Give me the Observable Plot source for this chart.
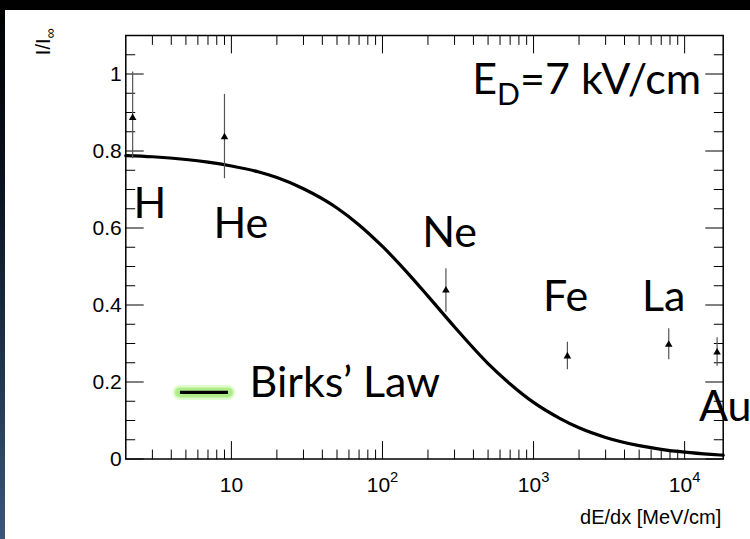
<!DOCTYPE html>
<html>
<head>
<meta charset="utf-8">
<script src="https://cdn.jsdelivr.net/npm/d3@7"></script>
<script src="https://cdn.jsdelivr.net/npm/@observablehq/plot@0.6"></script>
<style>
  html, body { margin: 0; padding: 0; background: #000; }
  #wrap { position: relative; width: 750px; height: 539px; overflow: hidden;
          background: linear-gradient(to bottom, #000 0%, #0a1320 35%, #22374f 70%, #3b5678 100%); }
  #chart { position: absolute; left: 5px; top: 10px; width: 745px; height: 529px; background: #fff; }
</style>
</head>
<body>
<div id="wrap"><div id="chart"></div></div>
<script>
// ---- data ----
const elements = ["H", "He", "Ne", "Fe", "La", "Au"];
const dEdx     = [2.22, 9.0, 263, 1675, 7850, 16400];       // MeV/cm
const ratio    = [0.886, 0.836, 0.438, 0.267, 0.297, 0.277]; // I/I_inf
const errLow   = [0.780, 0.728, 0.381, 0.232, 0.258, 0.241];
const errHigh  = [1.005, 0.947, 0.494, 0.303, 0.338, 0.315];
const labelX   = [2.25, 7.6, 183, 1156, 5225, 12450];
const labelY   = [0.625, 0.575, 0.550, 0.384, 0.384, 0.100];

// Birks' law curve
const birksX = [2, 3, 5, 7, 10, 15, 20, 30, 50, 70, 100, 150, 200, 300, 500, 700,
                1000, 1500, 2000, 3000, 5000, 7000, 10000, 15000, 18000];
const birksY = [0.788, 0.785, 0.778, 0.771, 0.761, 0.746, 0.731, 0.702, 0.652, 0.608,
                0.552, 0.479, 0.423, 0.343, 0.248, 0.195, 0.147, 0.105, 0.081, 0.056,
                0.0346, 0.025, 0.0177, 0.0119, 0.0099];

const xDomain = [2, 18000];
const yDomain = [0, 1.1];
const xMajor = [10, 100, 1000, 10000];
const xTickLabels = ["10", "10^2", "10^3", "10^4"];
const xMinor = [3,4,5,6,7,8,9, 20,30,40,50,60,70,80,90, 200,300,400,500,600,700,800,900,
                2000,3000,4000,5000,6000,7000,8000,9000];
const yMajor = [0, 0.2, 0.4, 0.6, 0.8, 1];
const yTickLabels = ["0", "0.2", "0.4", "0.6", "0.8", "1"];
const yMinor = [0.05,0.1,0.15,0.25,0.3,0.35,0.45,0.5,0.55,0.65,0.7,0.75,0.85,0.9,0.95,1.05];

const fieldLabel = ["E_D=7 kV/cm"];
const fieldPos = {x: 393, y: 0.947};
const legendLabel = ["Birks’ Law"];
const legendLine = {x1: 4.6, x2: 9.56, y: 0.173};
const legendText = {x: 13.2, y: 0.1605};
const xTitle = ["dE/dx [MeV/cm]"];
const yTitle = ["I/I_∞"];

// ---- drawing ----
const tickShape = {draw(context, l) { context.moveTo(0, 0); context.lineTo(0, -l); }};
const MAJ = 17.5, MIN = 9;
const vt = (data, o) => Plot.vector(data, {anchor: "start", shape: tickShape, stroke: "#000", strokeWidth: 1, ...o});
const labelFont = "Lato, 'Open Sans', sans-serif";

const svg = Plot.plot({
  width: 745, height: 529,
  marginLeft: 120.3, marginRight: 27.3, marginTop: 25, marginBottom: 80.5,
  style: {background: "white", fontFamily: "'Liberation Sans', Arial, sans-serif", overflow: "visible"},
  x: {type: "log", domain: xDomain},
  y: {domain: yDomain},
  marks: [
    // ticks inside frame
    vt(xMajor, {x: d => d, y: yDomain[0], length: MAJ, rotate: 0}),
    vt(xMinor, {x: d => d, y: yDomain[0], length: MIN, rotate: 0}),
    vt(xMajor, {x: d => d, y: yDomain[1], length: MAJ, rotate: 180}),
    vt(xMinor, {x: d => d, y: yDomain[1], length: MIN, rotate: 180}),
    vt(yMajor, {y: d => d, x: xDomain[0], length: MAJ, rotate: 90}),
    vt(yMinor, {y: d => d, x: xDomain[0], length: MIN, rotate: 90}),
    vt(yMajor, {y: d => d, x: xDomain[1], length: MAJ, rotate: -90}),
    vt(yMinor, {y: d => d, x: xDomain[1], length: MIN, rotate: -90}),
    Plot.axisX({ticks: xMajor, tickSize: 0, tickPadding: 18, fontSize: 21, label: null,
                tickFormat: d => xTickLabels[xMajor.indexOf(d)]}),
    Plot.axisY({ticks: yMajor, tickSize: 0, tickPadding: 4, fontSize: 21, label: null,
                tickFormat: d => yTickLabels[yMajor.indexOf(d)]}),
    // curve
    Plot.line(birksX.map((x, i) => ({x, y: birksY[i]})), {x: "x", y: "y", stroke: "#000", strokeWidth: 3.2, curve: "monotone-x"}),
    // error bars + markers
    Plot.ruleX(elements.map((e, i) => i), {x: i => dEdx[i], y1: i => errLow[i], y2: i => errHigh[i], stroke: "#555", strokeWidth: 1.2}),
    Plot.dot(elements.map((e, i) => i), {x: i => dEdx[i], y: i => ratio[i], symbol: "triangle", r: 2.8, fill: "#000", stroke: null}),
    // element labels
    Plot.text(elements.map((e, i) => i), {x: i => labelX[i], y: i => labelY[i], text: i => elements[i],
      textAnchor: "start", lineAnchor: "bottom", fontSize: 43, fontFamily: labelFont, fill: "#000"}),
    // field label
    Plot.text(fieldLabel, {x: fieldPos.x, y: fieldPos.y, text: d => d, textAnchor: "start", lineAnchor: "bottom",
      fontSize: 43, fontFamily: labelFont, fill: "#000", ariaLabel: "rich"}),
    // legend
    Plot.ruleY([legendLine.y], {x1: legendLine.x1, x2: legendLine.x2, stroke: "#c8f5a8", strokeWidth: 15, strokeOpacity: 0.55, strokeLinecap: "round"}),
    Plot.ruleY([legendLine.y], {x1: legendLine.x1, x2: legendLine.x2, stroke: "#a6ea7c", strokeWidth: 10, strokeOpacity: 0.85, strokeLinecap: "round"}),
    Plot.ruleY([legendLine.y], {x1: legendLine.x1, x2: legendLine.x2, stroke: "#000", strokeWidth: 3.2}),
    Plot.text(legendLabel, {x: legendText.x, y: legendText.y, text: d => d, textAnchor: "start", lineAnchor: "bottom",
      fontSize: 43, fontFamily: labelFont, fill: "#000"}),
    // axis titles
    Plot.text(xTitle, {frameAnchor: "bottom-right", text: d => d, textAnchor: "end", lineAnchor: "bottom",
      dx: -2, dy: 64.5, fontSize: 20, fill: "#000"}),
    Plot.text(yTitle, {frameAnchor: "top-left", text: d => d, textAnchor: "end", lineAnchor: "bottom",
      rotate: -90, dx: -76, dy: -7, fontSize: 20, fill: "#000", ariaLabel: "rich"}),
    Plot.frame({stroke: "#000", strokeWidth: 1.5})
  ]
});
document.getElementById("chart").append(svg);

// superscripts / subscripts written as ^x and _x
function richify(el) {
  const s = el.textContent;
  if (!/[\^_]/.test(s)) return;
  const fs = parseFloat(getComputedStyle(el).fontSize) || 20;
  el.textContent = "";
  const re = /([\^_])(\{[^}]*\}|.)/g;
  let last = 0, m, shift = 0;
  const add = (txt, kind) => {
    const t = document.createElementNS("http://www.w3.org/2000/svg", "tspan");
    const target = kind === "^" ? -0.45 * fs : kind === "_" ? 0.25 * fs : 0;
    t.setAttribute("dy", target - shift); shift = target;
    if (kind) t.setAttribute("font-size", (fs * 0.7).toFixed(1));
    t.textContent = txt;
    el.appendChild(t);
  };
  while ((m = re.exec(s))) {
    if (m.index > last) add(s.slice(last, m.index), null);
    add(m[2].replace(/[{}]/g, ""), m[1]);
    last = re.lastIndex;
  }
  if (last < s.length) add(s.slice(last), null);
}
d3.select(svg).selectAll("text").each(function() { richify(this); });
</script>
</body>
</html>
